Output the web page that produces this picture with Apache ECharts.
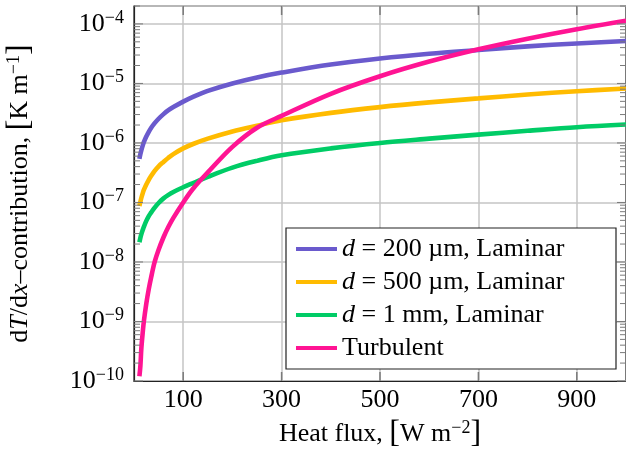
<!DOCTYPE html>
<html>
<head>
<meta charset="utf-8">
<script src="https://cdn.jsdelivr.net/npm/echarts@6/dist/echarts.min.js"></script>
<style>
  html, body { margin: 0; padding: 0; background: #fff; }
  #main { width: 626px; height: 459px; }
</style>
</head>
<body>
<div id="main"></div>
<script>
// heat flux [W m^-2] sample points
var heatFlux = [11, 13, 15, 18, 20, 25, 30, 35, 42, 50, 60, 70, 80, 100, 120, 150, 200, 250, 300, 400, 500, 600, 700, 800, 900, 1000];

// dT/dx contributions [K m^-1]
var lam200um = [5.4e-7, 6.5e-7, 7.6e-7, 9.2e-7, 1.03e-6, 1.28e-6, 1.54e-6, 1.8e-6, 2.15e-6, 2.55e-6, 3.05e-6, 3.55e-6, 4.0e-6,
  4.95e-6, 5.95e-6, 7.5e-6, 1.0e-5, 1.26e-5, 1.52e-5, 2.08e-5, 2.62e-5, 3.15e-5, 3.65e-5, 4.2e-5, 4.7e-5, 5.17e-5];
var lam500um = [8.7e-8, 1.03e-7, 1.2e-7, 1.45e-7, 1.62e-7, 2.0e-7, 2.4e-7, 2.8e-7, 3.4e-7, 4.05e-7, 4.8e-7, 5.65e-7, 6.5e-7,
  8.1e-7, 9.6e-7, 1.18e-6, 1.56e-6, 1.95e-6, 2.4e-6, 3.2e-6, 4.0e-6, 4.8e-6, 5.6e-6, 6.5e-6, 7.4e-6, 8.2e-6];
var lam1mm = [2.14e-8, 2.55e-8, 2.95e-8, 3.5e-8, 3.9e-8, 4.9e-8, 5.9e-8, 6.8e-8, 8.2e-8, 9.8e-8, 1.17e-7, 1.34e-7, 1.5e-7,
  1.8e-7, 2.12e-7, 2.7e-7, 3.85e-7, 5.0e-7, 6.2e-7, 8.1e-7, 1.0e-6, 1.18e-6, 1.38e-6, 1.6e-6, 1.84e-6, 2.04e-6];
var turbulent = [1.2e-10, 1.8e-10, 3.6e-10, 6.9e-10, 1.0e-9, 2.0e-9, 3.5e-9, 5.6e-9, 1.0e-8, 1.6e-8, 2.6e-8, 3.9e-8, 5.5e-8,
  1.0e-7, 1.7e-7, 3.2e-7, 8.6e-7, 1.8e-6, 2.85e-6, 6.7e-6, 1.32e-5, 2.33e-5, 3.75e-5, 5.65e-5, 8.15e-5, 1.13e-4];

var seriesNames = ['d200', 'd500', 'd1mm', 'turb'];
var legendLabels = ['{i|d} = 200 µm, Laminar', '{i|d} = 500 µm, Laminar', '{i|d} = 1 mm, Laminar', 'Turbulent'];
var colors = ['#6a5acd', '#ffbb00', '#00cc66', '#ff1493'];

var xMin = 0, xMax = 1000;
var yMin = 1e-10, yMax = 2e-4;
var xTickValues = [100, 300, 500, 700, 900];
var yDecades = [-10, -9, -8, -7, -6, -5, -4];
var mantissas = [1, 2, 3, 4, 5, 6, 7, 8, 9];

var serif = 'Liberation Serif';

function pairs(ys) {
  return heatFlux.map(function (x, i) { return [x, ys[i]]; });
}

var yTicks = [];
yDecades.forEach(function (e) {
  mantissas.forEach(function (m) {
    var v = m * Math.pow(10, e);
    if (v <= yMax) yTicks.push([v, m === 1 ? 1 : 0]);
  });
});

var tickColor = '#7a7a7a';

var chart = echarts.init(document.getElementById('main'));

var lineSeries = [lam200um, lam500um, lam1mm, turbulent].map(function (arr, i) {
  return {
    name: seriesNames[i],
    type: 'line',
    data: pairs(arr),
    showSymbol: false,
    smooth: 0.35,
    lineStyle: { width: 4.6, color: colors[i], cap: 'butt' },
    itemStyle: { color: colors[i] },
    z: 3
  };
});

var option = {
  animation: false,
  backgroundColor: '#fff',
  grid: {
    left: 134, right: 0, top: 6, bottom: 78,
    show: true, borderColor: '#222', borderWidth: 1.2,
    containLabel: false, outerBoundsMode: 'none'
  },
  legend: {
    orient: 'vertical',
    left: 286, top: 228,
    data: seriesNames,
    formatter: function (name) { return legendLabels[seriesNames.indexOf(name)]; },
    icon: 'rect',
    itemWidth: 41, itemHeight: 4,
    itemGap: 7,
    padding: [8, 10, 8, 10],
    backgroundColor: '#fff',
    borderColor: '#222', borderWidth: 1.2,
    borderRadius: 0,
    textStyle: {
      fontFamily: serif, fontSize: 26, color: '#000', lineHeight: 26, width: 264,
      rich: { i: { fontFamily: serif, fontStyle: 'italic', fontSize: 26, color: '#000' } }
    }
  },
  xAxis: {
    type: 'value',
    min: xMin, max: xMax, interval: 100,
    axisLine: { show: true, lineStyle: { color: '#222', width: 1.2 } },
    axisTick: { show: false },
    splitLine: { show: true, lineStyle: { color: ['rgba(0,0,0,0)', '#c4c4c4'], width: 1.5 } },
    axisLabel: {
      customValues: xTickValues,
      fontFamily: serif, fontSize: 26, color: '#000', margin: 6
    },
    name: '{t|Heat flux, }{b|[}{t|W m}{s|−2}{b|]}',
    nameLocation: 'middle',
    nameGap: 37,
    nameTextStyle: {
      rich: {
        t: { fontFamily: serif, fontSize: 26, color: '#000' },
        b: { fontFamily: serif, fontSize: 32, color: '#000' },
        s: { fontFamily: serif, fontSize: 18, color: '#000', padding: [0, 0, 12, 0] }
      }
    }
  },
  yAxis: {
    type: 'log', logBase: 10,
    min: yMin, max: yMax,
    axisLine: { show: true, lineStyle: { color: '#222', width: 1.2 } },
    axisTick: { show: false },
    splitLine: { show: true, lineStyle: { color: '#c4c4c4', width: 1.5 } },
    axisLabel: {
      margin: 10,
      formatter: function (v) {
        var e = Math.log10(v);
        var r = Math.round(e);
        if (Math.abs(e - r) > 1e-6 || v > 1.5e-4) return '';
        return '{b|10}{s|−' + (-r) + '}';
      },
      rich: {
        b: { fontFamily: serif, fontSize: 26, color: '#000' },
        s: { fontFamily: serif, fontSize: 18, color: '#000', padding: [0, 0, 12, 0] }
      }
    },
    name: '{t|d}{i|T}{t|/d}{i|x}{t|–contribution, }{b|[}{t|K m}{s|−1}{b|]}',
    nameLocation: 'middle',
    nameGap: 98,
    nameTextStyle: {
      rich: {
        t: { fontFamily: serif, fontSize: 26, color: '#000' },
        i: { fontFamily: serif, fontSize: 26, fontStyle: 'italic', color: '#000' },
        b: { fontFamily: serif, fontSize: 32, color: '#000' },
        s: { fontFamily: serif, fontSize: 18, color: '#000', padding: [0, 0, 12, 0] }
      }
    }
  },
  series: lineSeries.concat([
    {
      type: 'custom',
      name: 'yticks',
      silent: true,
      z: 4,
      clip: false,
      data: yTicks,
      encode: { y: 0 },
      renderItem: function (params, api) {
        var v = api.value(0);
        var len = api.value(1) ? 9 : 6;
        var pl = api.coord([xMin, v]);
        var pr = api.coord([xMax, v]);
        var st = { stroke: tickColor, lineWidth: 1 };
        return {
          type: 'group',
          children: [
            { type: 'line', shape: { x1: pl[0], y1: pl[1], x2: pl[0] + len, y2: pl[1] }, style: st },
            { type: 'line', shape: { x1: pr[0], y1: pr[1], x2: pr[0] - len, y2: pr[1] }, style: st }
          ]
        };
      }
    },
    {
      type: 'custom',
      name: 'xticks',
      silent: true,
      z: 4,
      clip: false,
      data: xTickValues.map(function (v) { return [v]; }),
      encode: { x: 0 },
      renderItem: function (params, api) {
        var v = api.value(0);
        var pb = api.coord([v, yMin]);
        var pt = api.coord([v, yMax]);
        var st = { stroke: tickColor, lineWidth: 1.5 };
        return {
          type: 'group',
          children: [
            { type: 'line', shape: { x1: pb[0], y1: pb[1], x2: pb[0], y2: pb[1] - 9 }, style: st },
            { type: 'line', shape: { x1: pt[0], y1: pt[1], x2: pt[0], y2: pt[1] + 9 }, style: st }
          ]
        };
      }
    }
  ])
};

chart.setOption(option);
</script>
</body>
</html>
